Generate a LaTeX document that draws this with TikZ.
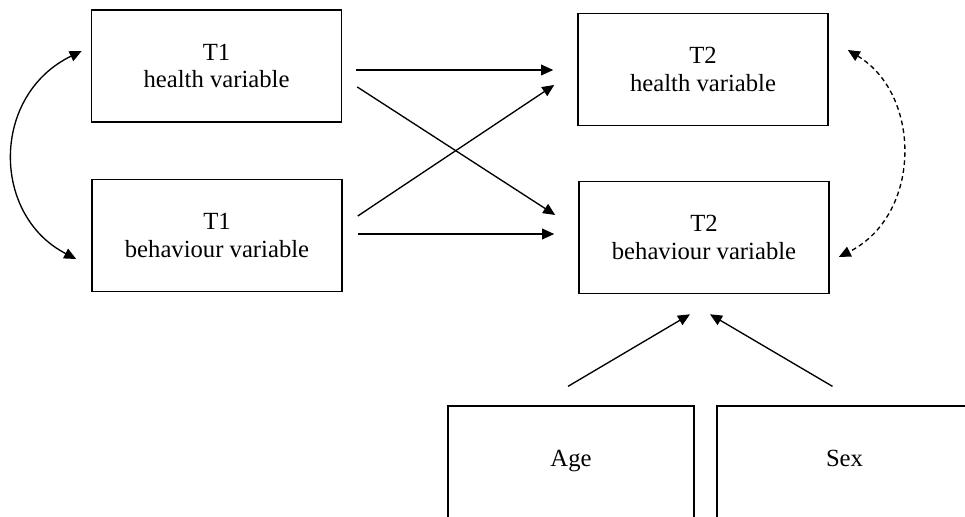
\documentclass[tikz,border=0pt]{standalone}
\usepackage{fontspec}
\setmainfont{Liberation Serif}
\usepackage{tikz}
\usetikzlibrary{calc,arrows.meta}

\tikzset{
    varbox/.style={draw, line width=1.2pt, minimum width=187.5pt, minimum height=84pt, align=center, font=\fontsize{18.5}{20.5}\selectfont},
    covbox/.style={draw, line width=1.2pt, minimum height=104pt, text height=13pt, text depth=26.5pt, font=\fontsize{18.5}{20.5}\selectfont},
    arr/.style={-{Triangle[length=9pt,width=8pt]}, line width=1pt},
    dblarr/.style={{Triangle[length=9pt,width=8pt]}-{Triangle[length=9pt,width=8pt]}, line width=1pt},
}

\begin{document}
\begin{tikzpicture}[x=0.75pt, y=-0.75pt]
    \path[use as bounding box, clip] (0,0) rectangle (965,517);

    % T1 の変数
    \node[varbox] (h1) at (216.5,66) {T1\\health variable};
    \node[varbox] (b1) at (217,235.5) {T1\\behaviour variable};

    % T2 の変数
    \node[varbox] (h2) at (703,69.5) {T2\\health variable};
    \node[varbox] (b2) at (704,237.5) {T2\\behaviour variable};

    % 共変量
    \node[covbox, minimum width=184.5pt] (age) at (571,475.5) {Age};
    \node[covbox, minimum width=191pt] (sex) at (844.5,475.5) {Sex};

    % 矢印
    \draw[arr] ($(h1.east)+(14,4)$) -- ($(h2.west)+(-24,0.5)$);
    \draw[arr] ($(h1.east)+(15,21)$) -- ($(b2.west)+(-23,-22.5)$);
    \draw[arr] ($(b1.east)+(15,-19.5)$) -- ($(h2.west)+(-23,15.5)$);
    \draw[arr] ($(b1.east)+(15,-1.5)$) -- ($(b2.west)+(-24,-3.5)$);
    \draw[arr] ($(age.north)+(-3,-19)$) -- ($(b2.south)+(-14,20)$);
    \draw[arr] ($(sex.north)+(-12,-19)$) -- ($(b2.south)+(6,20)$);

    % 相関
    \draw[dblarr] ($(h1.west)+(-9,-15)$) .. controls (-9,95) and (-9,215) .. ($(b1.west)+(-15,23.5)$);
    \draw[dblarr, dash pattern=on 3.5pt off 2.5pt] ($(h2.east)+(19,-19.5)$) .. controls (922,95) and (922,215) .. ($(b2.east)+(9,19.5)$);

\end{tikzpicture}
\end{document}
